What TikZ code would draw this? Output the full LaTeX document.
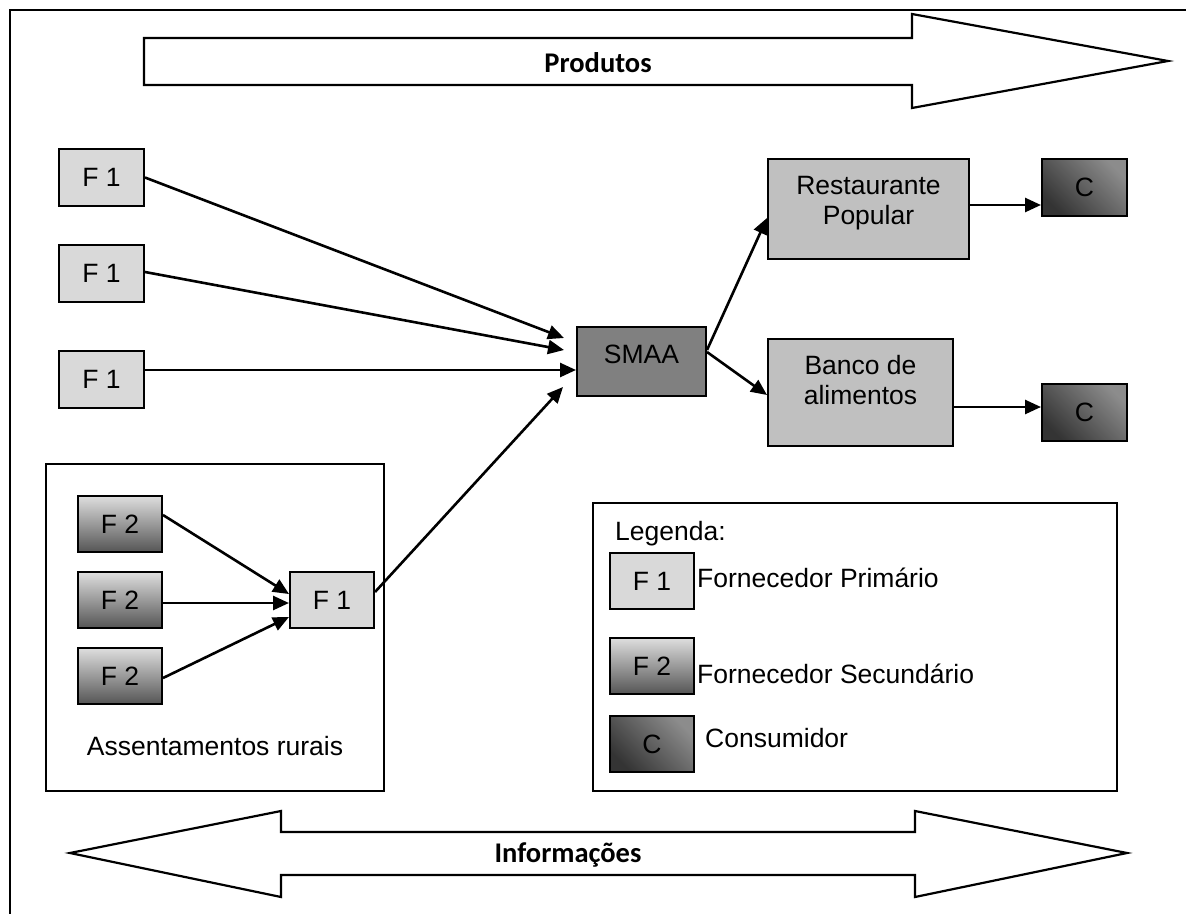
\documentclass[tikz,border=0pt]{standalone}
\usepackage{fontspec}
\setmainfont{Liberation Sans}
\newfontfamily\calib{Carlito}
\usetikzlibrary{arrows.meta,calc}
\definecolor{fonefill}{RGB}{217,217,217}
\definecolor{gtop}{RGB}{222,222,222}
\definecolor{gbot}{RGB}{85,85,85}
\definecolor{cdark}{RGB}{52,52,52}
\definecolor{clight}{RGB}{140,140,140}
\definecolor{smaafill}{RGB}{128,128,128}
\definecolor{destfill}{RGB}{192,192,192}
\begin{document}
\begin{tikzpicture}[x=1pt,y=-1pt,
  txt/.style={font=\fontsize{26.5}{30}\selectfont, inner sep=0pt},
  bigtxt/.style={font=\calib\bfseries\fontsize{28.5}{32}\selectfont, inner sep=0pt},
  bx/.style={draw=black, line width=2pt, inner sep=0pt, font=\fontsize{26.5}{30}\selectfont},
  fonebox/.style={bx, fill=fonefill, minimum width=85pt, minimum height=57pt},
  ftwobox/.style={bx, top color=gtop, bottom color=gbot, minimum width=84pt, minimum height=56pt},
  cbox/.style={bx, top color=clight, bottom color=cdark, shading angle=-45, minimum width=85pt, minimum height=57pt},
  destbox/.style={bx, fill=destfill},
  frame/.style={draw=black, line width=2.2pt},
  bigarrow/.style={draw=black, line width=2.2pt, line join=miter},
  arr/.style={line width=2.6pt, -{Triangle[length=16pt,width=14pt]}}
]
\useasboundingbox (0,0) rectangle (1186,913);

% outer frame (cut off at right and bottom)
\draw[frame] (10,920) -- (10,10) -- (1195,10);

% Produtos arrow
\draw[bigarrow] (144,38) -- (912,38) -- (912,14) -- (1168,61) -- (912,108) -- (912,85) -- (144,85) -- cycle;
\node[bigtxt, anchor=base] (prod) at (598,72) {Produtos};

% Informações double arrow
\draw[bigarrow] (70,853) -- (281,811) -- (281,832) -- (915,832) -- (915,811) -- (1127,853) -- (915,897) -- (915,875) -- (281,875) -- (281,897) -- cycle;
\node[bigtxt, anchor=base] (info) at (568,862) {Informações};

% primary suppliers
\node[fonebox] (f1a) at (101.5,177.5) {F 1};
\node[fonebox] (f1b) at (101.5,273.5) {F 1};
\node[fonebox] (f1c) at (101.5,379.5) {F 1};

% settlements
\draw[frame, line width=2pt] (46,464) rectangle (384,791);
\node[ftwobox] (f2a) at (120,524) {F 2};
\node[ftwobox] (f2b) at (120,600) {F 2};
\node[ftwobox] (f2c) at (120,676) {F 2};
\node[fonebox, minimum width=84pt, minimum height=56pt] (f1i) at (332,600) {F 1};
\node[txt, anchor=base] (assent) at (215,755) {Assentamentos rurais};

% SMAA
\node[bx, fill=smaafill, minimum width=129pt, minimum height=69pt] (smaa) at (641.5,361.5) {};
\node[txt, anchor=base] (smaat) at (641.5,363) {SMAA};

% destinations
\node[destbox, minimum width=201pt, minimum height=100pt] (rp) at (868.5,209) {};
\node[txt, align=center] (rpt) at (868.5,203.5) {Restaurante\\Popular};
\node[destbox, minimum width=185pt, minimum height=107pt] (ba) at (860.5,392.5) {};
\node[txt, align=center] (bat) at (860.5,380.5) {Banco de\\alimentos};

% consumers
\node[cbox] (c1) at (1084.5,187.5) {C};
\node[cbox] (c2) at (1084.5,412.5) {C};

% connectors
\draw[arr] (f1a.east) -- ([xshift=-12pt,yshift=23.5pt]smaa.west);
\draw[arr] ([yshift=1.5pt]f1b.east) -- ([xshift=-12pt,yshift=11.5pt]smaa.west);
\draw[arr] ([yshift=9.5pt]f1c.east) -- ([yshift=-8.5pt]smaa.west);
\draw[arr] ([yshift=8pt]f1i.east) -- ([xshift=-13pt,yshift=-25.5pt]smaa.west);

\draw[arr] ([yshift=9pt]f2a.east) -- ([yshift=6pt]f1i.west);
\draw[arr] ([yshift=-3pt]f2b.east) -- ([yshift=-3pt]f1i.west);
\draw[arr] ([yshift=-2pt]f2c.east) -- ([yshift=-17pt]f1i.west);

\draw[arr] ([yshift=11.5pt]smaa.east) -- ([yshift=-9pt]rp.west);
\draw[arr] ([yshift=9.5pt]smaa.east) -- ([yshift=-2.5pt]ba.west);
\draw[arr] ([yshift=4pt]rp.east) -- ([yshift=-17.5pt]c1.west);
\draw[arr] ([yshift=-14.5pt]ba.east) -- ([yshift=5.5pt]c2.west);

% legend
\draw[frame, line width=2pt] (593,503) rectangle (1117,791);
\node[txt, anchor=base west] (leg) at (615,540) {Legenda:};
\node[fonebox, minimum width=84pt, minimum height=56pt] (lf1) at (652,581) {F 1};
\node[txt, anchor=base west] (lf1t) at (697,587) {Fornecedor Primário};
\node[ftwobox] (lf2) at (652,666) {F 2};
\node[txt, anchor=base west] (lf2t) at (697,683) {Fornecedor Secundário};
\node[cbox, minimum width=84pt, minimum height=56pt] (lc) at (652,744) {C};
\node[txt, anchor=base west] (lct) at (705,747) {Consumidor};
\end{tikzpicture}
\end{document}
